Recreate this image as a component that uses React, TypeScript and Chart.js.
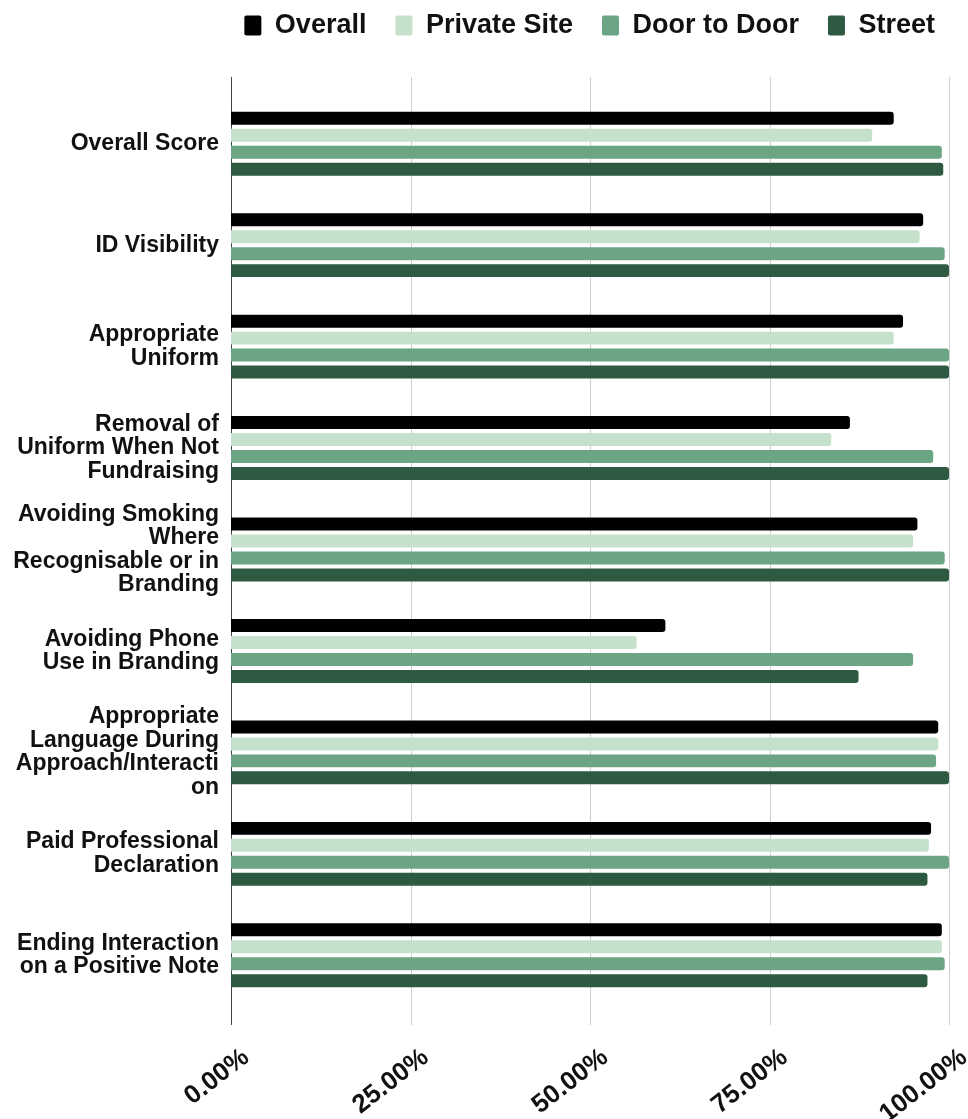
import React, { useEffect, useRef } from "react";
import { Chart, registerables } from "chart.js";

Chart.register(...registerables);

// Category labels (pre-wrapped into lines)
const categories: string[][] = [
  ["Overall Score"],
  ["ID Visibility"],
  ["Appropriate", "Uniform"],
  ["Removal of", "Uniform When Not", "Fundraising"],
  ["Avoiding Smoking", "Where", "Recognisable or in", "Branding"],
  ["Avoiding Phone", "Use in Branding"],
  ["Appropriate", "Language During", "Approach/Interacti", "on"],
  ["Paid Professional", "Declaration"],
  ["Ending Interaction", "on a Positive Note"],
];

const seriesNames = ["Overall", "Private Site", "Door to Door", "Street"];

// Scores in percent
const overall = [92.3, 96.4, 93.6, 86.2, 95.6, 60.5, 98.5, 97.5, 99.0];
const privateSite = [89.3, 95.9, 92.3, 83.6, 95.0, 56.5, 98.5, 97.2, 99.0];
const doorToDoor = [99.0, 99.4, 100, 97.8, 99.4, 95.0, 98.2, 100, 99.4];
const street = [99.2, 100, 100, 100, 100, 87.4, 100, 97.0, 97.0];

const seriesColors = ["#000000", "#c5e1cc", "#6ba584", "#2d5a40"];

const xTicks = [0, 25, 50, 75, 100];

const FONT = "'Liberation Sans', Arial, Helvetica, sans-serif";

// Extra room under the legend row
const LEGEND_EXTRA = 44;

// Vertical grid lines that run a little past the top and bottom of the plot
const extendedGrid = {
  id: "extendedGrid",
  beforeLayout(chart: any) {
    const lg = chart.legend;
    if (lg && !lg.__padded) {
      const fit = lg.fit.bind(lg);
      lg.fit = function () {
        fit();
        this.height += LEGEND_EXTRA;
      };
      lg.__padded = true;
    }
  },
  beforeDatasetsDraw(chart: any) {
    const { ctx, chartArea, scales } = chart;
    const x = scales.x;
    ctx.save();
    ctx.lineWidth = 1;
    x.ticks.forEach((t: any) => {
      const px = Math.round(x.getPixelForValue(t.value)) + 0.5;
      ctx.strokeStyle = t.value === 0 ? "#444444" : "#cfcfcf";
      ctx.beginPath();
      ctx.moveTo(px, chartArea.top - 16);
      ctx.lineTo(px, chartArea.bottom + 19);
      ctx.stroke();
    });
    ctx.restore();
  },
};

export default function App() {
  const canvasRef = useRef<HTMLCanvasElement | null>(null);

  useEffect(() => {
    if (!canvasRef.current) return;
    const values = [overall, privateSite, doorToDoor, street];
    const chart = new Chart(canvasRef.current, {
      type: "bar",
      data: {
        labels: categories as any,
        datasets: seriesNames.map((name, i) => ({
          label: name,
          data: values[i],
          backgroundColor: seriesColors[i],
          borderRadius: 3,
          categoryPercentage: 0.669,
          barPercentage: 0.765,
        })),
      },
      options: {
        indexAxis: "y",
        animation: false,
        responsive: true,
        maintainAspectRatio: false,
        layout: { padding: { top: -17, right: 4, bottom: 0, left: 0 } },
        plugins: {
          tooltip: { enabled: false },
          legend: {
            position: "top",
            align: "end",
            labels: {
              color: "#111111",
              font: { family: FONT, size: 27, weight: "bold" },
              boxWidth: 17,
              boxHeight: 20,
              padding: 29,
              useBorderRadius: true,
              borderRadius: 2,
            },
          },
        },
        scales: {
          x: {
            type: "linear",
            min: 0,
            max: 100,
            afterBuildTicks(scale: any) {
              scale.ticks = xTicks.map((v) => ({ value: v }));
            },
            afterFit(scale: any) {
              scale.height = 113;
              scale.paddingLeft = 0;
              scale.paddingRight = 19;
            },
            grid: { display: false, drawTicks: false },
            border: { display: false },
            ticks: {
              color: "#111111",
              font: { family: FONT, size: 26, weight: "bold" },
              maxRotation: 38,
              minRotation: 38,
              padding: 36,
              labelOffset: 15,
              callback: (v: any) => Number(v).toFixed(2) + "%",
            },
          },
          y: {
            type: "category",
            afterFit(scale: any) {
              scale.width = 231;
            },
            grid: { display: false, drawTicks: false },
            border: { display: false },
            ticks: {
              autoSkip: false,
              color: "#111111",
              padding: 12,
              font: { family: FONT, size: 23, weight: "bold", lineHeight: "23.5px" },
            },
          },
        },
      },
      plugins: [extendedGrid],
    });
    return () => chart.destroy();
  }, []);

  return (
    <div
      style={{
        position: "absolute",
        left: 0,
        top: 0,
        width: 968,
        height: 1119,
        background: "#ffffff",
      }}
    >
      <canvas ref={canvasRef} />
    </div>
  );
}
